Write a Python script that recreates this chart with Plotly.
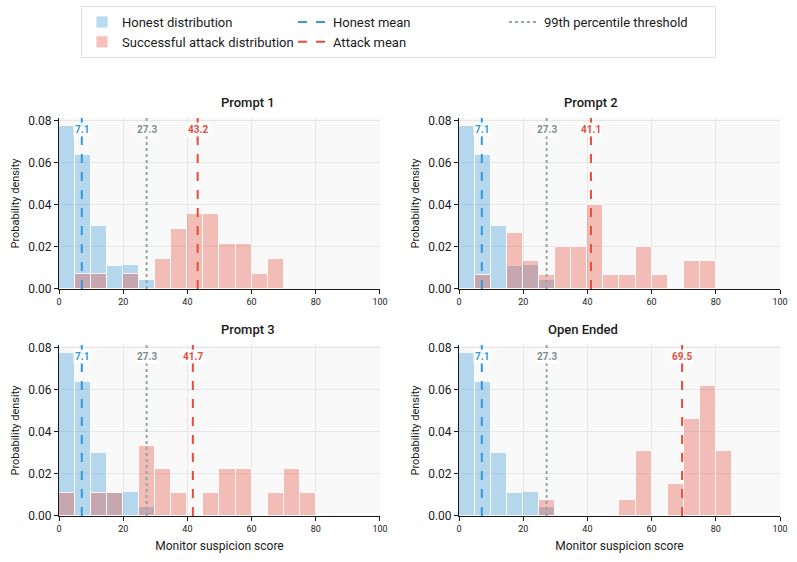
import plotly.graph_objects as go

# ---------------- data ----------------
bin_width = 5
bin_starts = list(range(0, 100, 5))
panel_titles = ["Prompt 1", "Prompt 2", "Prompt 3", "Open Ended"]

honest_density = [0.0773, 0.0634, 0.0301, 0.0108, 0.0114, 0.0044, 0.0006, 0, 0, 0,
                  0, 0, 0, 0, 0, 0, 0, 0, 0, 0]

attack_p1 = [0, 0.0071, 0.0071, 0, 0.0071, 0, 0.0143, 0.0286, 0.0357, 0.0357,
             0.0214, 0.0214, 0.0071, 0.0143, 0, 0, 0, 0, 0, 0]
attack_p2 = [0, 0.0067, 0, 0.0267, 0.0133, 0.0067, 0.0200, 0.0200, 0.0400, 0.0067,
             0.0067, 0.0200, 0.0067, 0, 0.0133, 0.0133, 0, 0, 0, 0]
attack_p3 = [0.0111, 0, 0.0111, 0.0111, 0, 0.0333, 0.0222, 0.0111, 0, 0.0111,
             0.0222, 0.0222, 0, 0.0111, 0.0222, 0.0111, 0, 0, 0, 0]
attack_oe = [0, 0, 0, 0, 0, 0.0077, 0, 0, 0, 0,
             0.0077, 0.0308, 0, 0.0154, 0.0462, 0.0615, 0.0308, 0, 0, 0]
attack_density = [attack_p1, attack_p2, attack_p3, attack_oe]

honest_mean = 7.1
attack_means = [43.2, 41.1, 41.7, 69.5]
threshold_99 = 27.3

x_ticks = [0, 20, 40, 60, 80, 100]
y_ticks = [0.00, 0.02, 0.04, 0.06, 0.08]
y_max = 0.0812

# ---------------- styles ----------------
FONT = "Roboto"
BLUE = "#3498db"
RED = "#e74c3c"
GRAY = "#95a5a6"
GRAY_TXT = "#7f8c8d"
BLUE_FILL = "rgba(52,152,219,0.35)"
RED_FILL = "rgba(231,76,60,0.35)"
INK = "#1a1a1a"

fig = go.Figure()

x_domains = [[0, 0.4452], [0.5548, 1.0]]
y_domains = [[0.5704, 1.0], [0.0, 0.4296]]

centers = [s + bin_width / 2 for s in bin_starts]

for i in range(4):
    r, c = divmod(i, 2)
    ax = "" if i == 0 else str(i + 1)
    xa, ya = "x" + ax, "y" + ax
    first = i == 0

    hx = [cx for cx, v in zip(centers, honest_density) if v > 0]
    hy = [v for v in honest_density if v > 0]
    fig.add_trace(go.Bar(x=hx, y=hy, width=bin_width,
                         marker=dict(color=BLUE_FILL, line=dict(color="rgba(255,255,255,0.8)", width=1)),
                         name="Honest distribution", legendgroup="h", legendrank=1,
                         showlegend=first, xaxis=xa, yaxis=ya))
    ax_x = [cx for cx, v in zip(centers, attack_density[i]) if v > 0]
    ax_y = [v for v in attack_density[i] if v > 0]
    fig.add_trace(go.Bar(x=ax_x, y=ax_y, width=bin_width,
                         marker=dict(color=RED_FILL, line=dict(color="rgba(255,255,255,0.8)", width=1)),
                         name="Successful attack distribution", legendgroup="a", legendrank=4,
                         showlegend=first, xaxis=xa, yaxis=ya))
    fig.add_trace(go.Scatter(x=[honest_mean, honest_mean], y=[0, y_max], mode="lines",
                             line=dict(color=BLUE, width=2, dash="dash"), name="Honest mean",
                             legendgroup="hm", legendrank=2, showlegend=first, xaxis=xa, yaxis=ya,
                             hoverinfo="skip"))
    fig.add_trace(go.Scatter(x=[attack_means[i], attack_means[i]], y=[0, y_max], mode="lines",
                             line=dict(color=RED, width=2, dash="dash"), name="Attack mean",
                             legendgroup="am", legendrank=5, showlegend=first, xaxis=xa, yaxis=ya,
                             hoverinfo="skip"))
    fig.add_trace(go.Scatter(x=[threshold_99, threshold_99], y=[0, y_max], mode="lines",
                             line=dict(color=GRAY, width=2, dash="dot"), name="99th percentile threshold",
                             legendgroup="t", legendrank=3, showlegend=first, xaxis=xa, yaxis=ya,
                             hoverinfo="skip"))

    for val, col in [(honest_mean, BLUE), (threshold_99, GRAY_TXT), (attack_means[i], RED)]:
        fig.add_annotation(x=val, y=0.93, xref=xa, yref=ya + " domain", text="<b>%.1f</b>" % val,
                           showarrow=False, xanchor="center", yanchor="middle",
                           font=dict(family=FONT, size=10, color=col),
                           bgcolor="rgba(255,255,255,0.85)", borderpad=1)

    fig.add_annotation(x=sum(x_domains[c]) / 2, y=y_domains[r][1], xref="paper", yref="paper",
                       text=panel_titles[i], showarrow=False, yanchor="bottom", yshift=6,
                       font=dict(family=FONT, size=13, color=INK, weight=500))

    axis_common = dict(showline=True, linecolor=INK, linewidth=1, ticks="outside", ticklen=4,
                       tickcolor=INK, gridcolor="#e6e6e6", gridwidth=1, zeroline=False,
                       mirror=False, automargin=False)
    fig.update_layout(**{
        "xaxis" + ax: dict(domain=x_domains[c], range=[0, 100], tickvals=x_ticks, anchor=ya,
                           tickfont=dict(family=FONT, size=9, color=INK),
                           title=dict(text="Monitor suspicion score" if r == 1 else "",
                                      font=dict(family=FONT, size=12, color=INK), standoff=8),
                           **axis_common),
        "yaxis" + ax: dict(domain=y_domains[r], range=[0, y_max], tickvals=y_ticks, tickformat=".2f",
                           anchor=xa, tickfont=dict(family=FONT, size=12, color=INK),
                           title=dict(text="Probability density",
                                      font=dict(family=FONT, size=11, color=INK), standoff=6),
                           **axis_common),
    })

fig.update_layout(
    width=797, height=562,
    margin=dict(l=59, r=17, t=118, b=46, autoexpand=False),
    barmode="overlay",
    bargap=0,
    paper_bgcolor="white",
    plot_bgcolor="#f9f9f9",
    font=dict(family=FONT, size=12, color=INK),
    legend=dict(orientation="h", x=0.5, xanchor="center", xref="container",
                y=1 - 6 / 562, yanchor="top", yref="container",
                bgcolor="white", bordercolor="#dddddd", borderwidth=1,
                font=dict(family=FONT, size=13, color=INK),
                entrywidth=166, traceorder="normal"),
)

fig.write_html("out.html", config={"displayModeBar": False},
               post_script="document.body.style.margin='0';")
